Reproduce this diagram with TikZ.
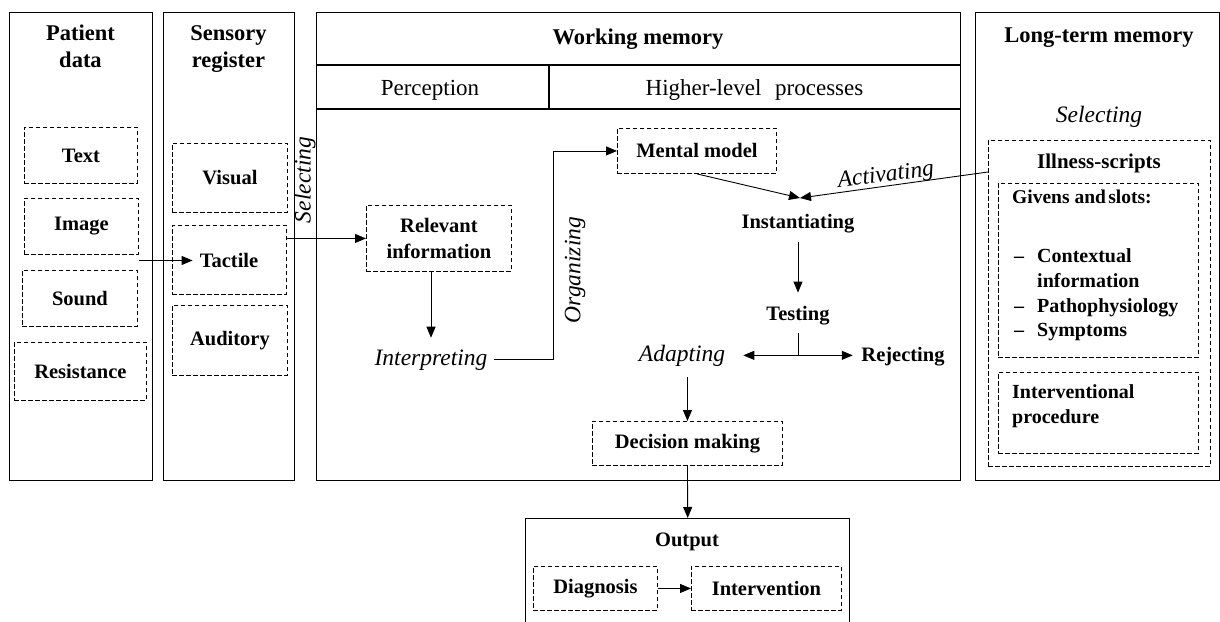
\documentclass[tikz,border=0pt]{standalone}
\usepackage{fontspec}
\setmainfont{Liberation Serif}
\usetikzlibrary{arrows.meta}
\begin{document}
\begin{tikzpicture}[x=1pt,y=-1pt,
  frame/.style={draw, line width=1.4pt, inner sep=0pt, anchor=north west},
  dbox/.style={draw, dash pattern=on 4.5pt off 2.5pt, line width=0.9pt, inner sep=0pt, anchor=north west, font=\fontsize{20.5}{26}\selectfont\bfseries, align=center},
  ttl/.style={font=\fontsize{22.5}{27}\selectfont\bfseries, inner sep=0pt, anchor=base},
  lbl/.style={font=\fontsize{20.5}{26}\selectfont\bfseries, inner sep=0pt, anchor=base},
  hdr/.style={font=\fontsize{23}{27}\selectfont, inner sep=0pt, anchor=base},
  ital/.style={font=\fontsize{23.5}{28}\selectfont\itshape, inner sep=0pt, anchor=base},
  ltm/.style={font=\fontsize{20}{24}\selectfont\bfseries, inner sep=0pt, anchor=base west},
  conn/.style={line width=0.9pt, -{Triangle[length=11pt,width=9pt]}},
  plain/.style={line width=0.9pt},
]
\useasboundingbox (0,0) rectangle (1220,621);
% main frames
\node[frame, minimum width=143pt, minimum height=468pt] (pd) at (9,12) {};
\node[frame, minimum width=131pt, minimum height=468pt] (sr) at (163,12) {};
\node[frame, minimum width=644pt, minimum height=468pt] (wm) at (316,12) {};
\node[frame, minimum width=244pt, minimum height=468pt] (lt) at (975,12) {};
\coordinate (h1) at (0,65);
\coordinate (h2) at (0,109);
\coordinate (vdiv) at (549,0);
\draw[line width=1.4pt] (wm.west |- h1) -- (wm.east |- h1);
\draw[line width=1.4pt] (wm.west |- h2) -- (wm.east |- h2);
\draw[line width=1.4pt] (vdiv |- h1) -- (vdiv |- h2);
% titles
\node[ttl] (t1a) at (80.5,40) {Patient};
\node[ttl] (t1b) at (80.5,67) {data};
\node[ttl] (t2a) at (228.5,40) {Sensory};
\node[ttl] (t2b) at (228.5,67) {register};
\node[ttl] (t3) at (638,44) {Working memory};
\node[hdr] (t3a) at (430,95) {Perception};
\node[hdr] (t3b) at (754.5,95) {Higher-level\hspace{0.6em}processes};
\node[ttl] (t4) at (1099,42) {Long-term memory};
% patient data
\node[dbox, minimum width=113pt, minimum height=56pt] (txt) at (24,127) {Text};
\node[dbox, minimum width=114pt, minimum height=56pt] (img) at (24,198) {Image};
\node[dbox, minimum width=115pt, minimum height=56pt] (snd) at (22,270) {Sound};
\node[dbox, minimum width=132pt, minimum height=58pt] (res) at (14,342) {Resistance};
% sensory register
\node[dbox, minimum width=115pt, minimum height=69pt] (vis) at (172,143) {Visual};
\node[dbox, minimum width=114pt, minimum height=69pt] (tact) at (172,225) {};
\node[lbl] (tacttxt) at (229,267.5) {Tactile};
\node[dbox, minimum width=115pt, minimum height=70pt] (aud) at (172,305) {Auditory};
\node[ital, rotate=90, anchor=center] (sel1) at (305,180) {Selecting};
% working memory
\node[dbox, minimum width=145pt, minimum height=66pt] (rel) at (366,205) {Relevant\\information};
\node[ital] (interp) at (431,365) {Interpreting};
\node[ital, rotate=90, anchor=center] (org) at (575,270) {Organizing};
\node[dbox, minimum width=159pt, minimum height=45pt] (mental) at (617,128) {Mental model};
\node[lbl] (inst) at (798,228) {Instantiating};
\node[lbl] (test) at (798,320) {Testing};
\node[ital] (adapt) at (682,361) {Adapting};
\node[lbl] (rej) at (903,361) {Rejecting};
\node[dbox, minimum width=190pt, minimum height=44pt] (dec) at (592,421) {Decision making};
\node[ital, rotate=7, anchor=center] (act) at (886,176) {Activating};
% long-term memory
\node[ital] (sel2) at (1099,122.7) {Selecting};
\node[dbox, minimum width=222pt, minimum height=326pt] (ill) at (988,140) {};
\node[lbl, font=\fontsize{21}{26}\selectfont\bfseries] (illt) at (1099,168) {Illness-scripts};
\node[dbox, minimum width=200pt, minimum height=174pt] (giv) at (998,183) {};
\node[ltm, font=\fontsize{19.5}{24}\selectfont\bfseries] (g0) at (1012,203) {Givens and\hspace{0.12em}slots:};
\node[ltm] (d1) at (1014,262) {–};
\node[ltm] (d2) at (1014,312) {–};
\node[ltm] (d3) at (1014,336) {–};
\node[ltm] (g1) at (1037,262) {Contextual};
\node[ltm] (g2) at (1037,287) {information};
\node[ltm] (g3) at (1037,312) {Pathophysiology};
\node[ltm] (g4) at (1037,336) {Symptoms};
\node[dbox, minimum width=200pt, minimum height=81pt] (intv) at (998,372) {};
\node[ltm] (p1) at (1012,398) {Interventional};
\node[ltm] (p2) at (1012,423) {procedure};
% output
\node[frame, minimum width=324pt, minimum height=110pt] (out) at (525,518) {};
\node[lbl] (outt) at (687,546.5) {Output};
\node[dbox, minimum width=124pt, minimum height=44pt] (diag) at (533,566) {Diagnosis};
\node[dbox, minimum width=150pt, minimum height=44pt] (interv) at (691,566) {Intervention};
% helper coordinates
\coordinate (bendx) at (553,0);
\coordinate (meet) at (800,198);
\coordinate (actsrc) at (988,172);
% connectors
\draw[conn, shorten >=7pt] (img.south east |- tacttxt.west) -- (tacttxt.west);
\draw[conn] (tact.east |- rel.west) -- (rel.west);
\draw[conn, shorten >=11.5pt] (rel.south -| interp.north) -- (interp.north);
\draw[conn, shorten <=6pt] (interp.east) -- (interp.east -| bendx) |- (mental.west);
\draw[conn] (mental.south) -- (meet);
\draw[conn] (actsrc) -- (meet);
\draw[conn, shorten <=9.5pt, shorten >=13pt] (inst.south) -- (test.north);
\draw[plain, shorten <=8.5pt] (test.south) -- (test.south |- adapt.east) coordinate (tj);
\draw[conn, shorten >=18pt] (tj) -- (adapt.east);
\draw[conn, shorten >=8.5pt] (tj) -- (tj -| rej.west);
\draw[conn, shorten <=11pt] (adapt.south -| dec.north) -- (dec.north);
\draw[conn] (dec.south) -- (out.north);
\draw[conn] (diag.east) -- (interv.west);
\end{tikzpicture}
\end{document}
